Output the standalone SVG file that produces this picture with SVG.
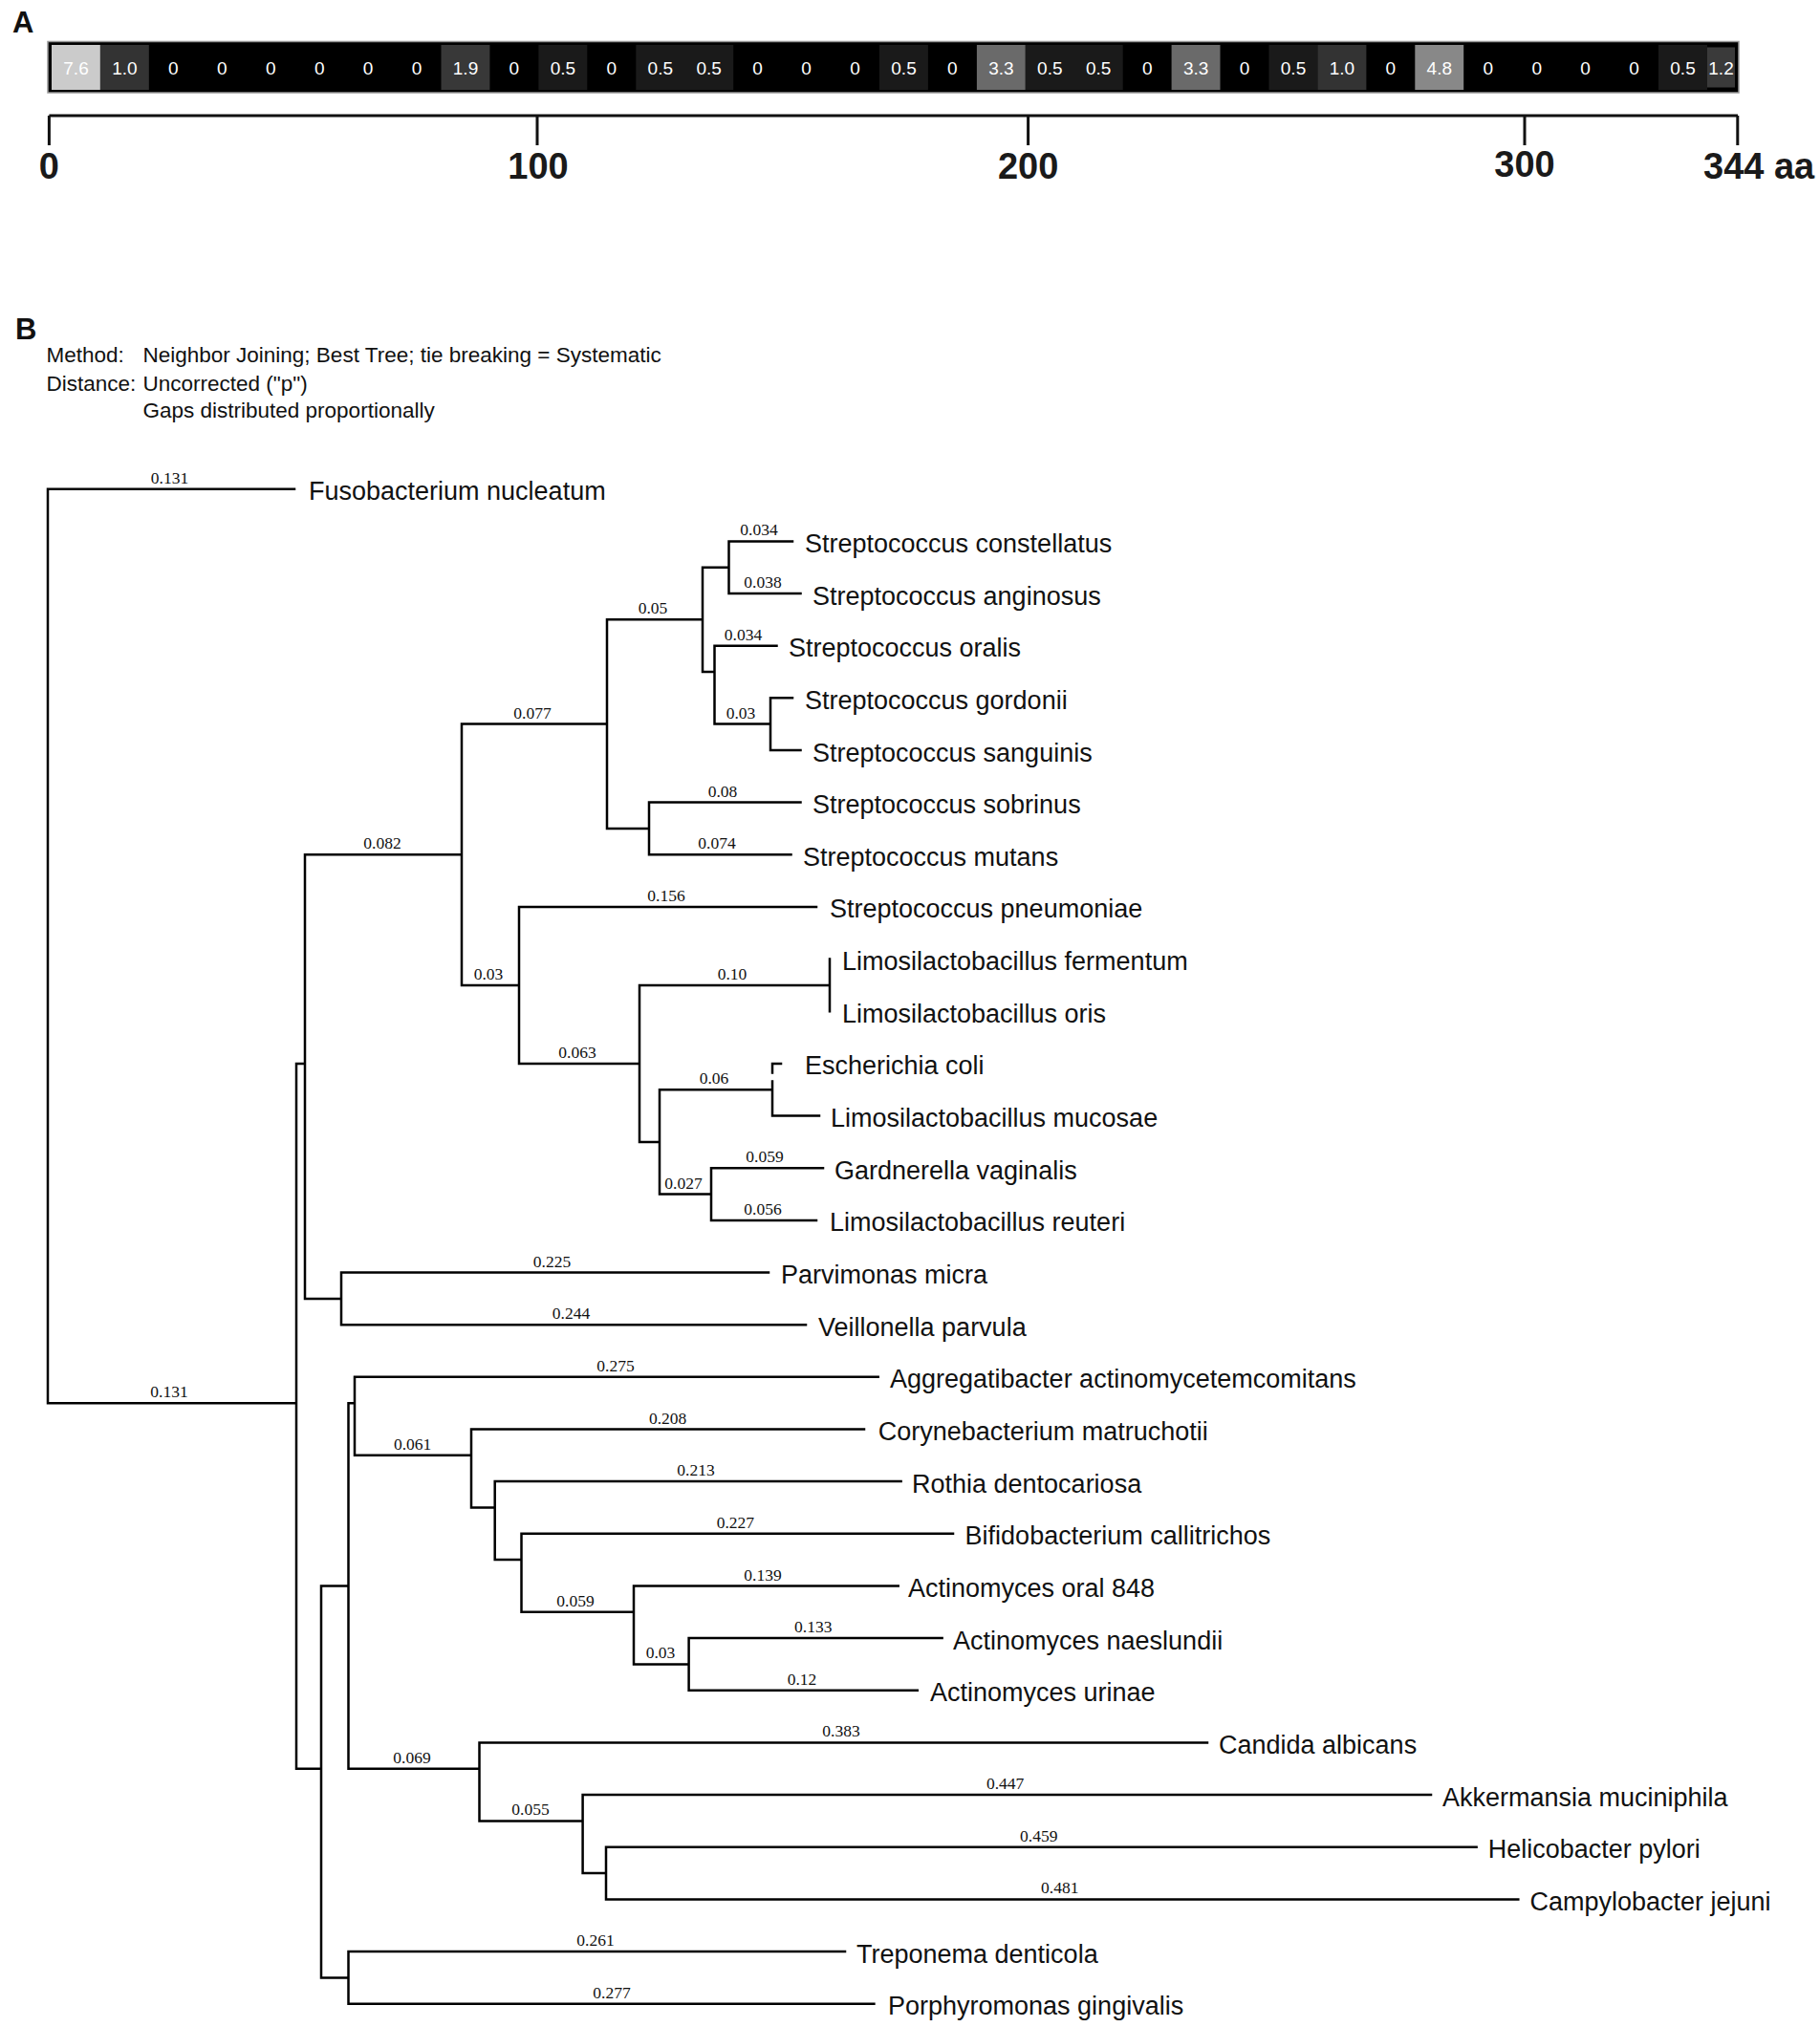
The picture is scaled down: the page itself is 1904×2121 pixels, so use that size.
<svg xmlns="http://www.w3.org/2000/svg" width="1904" height="2121" viewBox="0 0 1904 2121">
<style>
.br{stroke:#000;stroke-width:2.5;fill:none;stroke-linecap:square}
.lf{font-family:"Liberation Sans",Arial,sans-serif;font-size:27px;fill:#111}
.bl{font-family:"Liberation Serif","Times New Roman",serif;font-size:17.5px;fill:#111;text-anchor:middle}
.cv{font-family:"Liberation Sans",Arial,sans-serif;font-size:19px;fill:#fff;text-anchor:middle}
.ax{font-family:"Liberation Sans",Arial,sans-serif;font-weight:bold;font-size:38px;fill:#1a1a1a;text-anchor:middle}
.hd{font-family:"Liberation Sans",Arial,sans-serif;font-size:22.5px;fill:#111}
.pl{font-family:"Liberation Sans",Arial,sans-serif;font-weight:bold;font-size:31px;fill:#111}
.tk{stroke:#111;stroke-width:3;fill:none}
</style>
<rect width="1904" height="2121" fill="#fff"/>

<g id="panel-A">
<text class="pl" x="13" y="34">A</text>
<rect x="50" y="43.5" width="1769" height="53.5" fill="#000" stroke="#999" stroke-width="1.5"/>
<g id="cells">
<rect x="54" y="47" width="50.9" height="47" fill="#cbcbcb"/>
<rect x="104.9" y="47" width="50.9" height="47" fill="#333"/>
<rect x="461.5" y="47" width="50.9" height="47" fill="#383838"/>
<rect x="563.4" y="47" width="50.9" height="47" fill="#1a1a1a"/>
<rect x="665.3" y="47" width="101.9" height="47" fill="#1a1a1a"/>
<rect x="920" y="47" width="50.9" height="47" fill="#1a1a1a"/>
<rect x="1021.9" y="47" width="50.9" height="47" fill="#6a6a6a"/>
<rect x="1072.8" y="47" width="101.9" height="47" fill="#1a1a1a"/>
<rect x="1225.6" y="47" width="50.9" height="47" fill="#6a6a6a"/>
<rect x="1327.5" y="47" width="50.9" height="47" fill="#1a1a1a"/>
<rect x="1378.4" y="47" width="51" height="47" fill="#333"/>
<rect x="1480.3" y="47" width="50.9" height="47" fill="#888"/>
<rect x="1735" y="47" width="51" height="47" fill="#1a1a1a"/>
<rect x="1786" y="49.5" width="29" height="42" fill="#3a3a3a"/>
</g>
<g id="cell-values">
<text class="cv" x="79.5" y="78">7.6</text>
<text class="cv" x="130.4" y="78">1.0</text>
<text class="cv" x="181.4" y="78">0</text>
<text class="cv" x="232.3" y="78">0</text>
<text class="cv" x="283.2" y="78">0</text>
<text class="cv" x="334.2" y="78">0</text>
<text class="cv" x="385.1" y="78">0</text>
<text class="cv" x="436.1" y="78">0</text>
<text class="cv" x="487" y="78">1.9</text>
<text class="cv" x="537.9" y="78">0</text>
<text class="cv" x="588.9" y="78">0.5</text>
<text class="cv" x="639.8" y="78">0</text>
<text class="cv" x="690.8" y="78">0.5</text>
<text class="cv" x="741.7" y="78">0.5</text>
<text class="cv" x="792.6" y="78">0</text>
<text class="cv" x="843.6" y="78">0</text>
<text class="cv" x="894.5" y="78">0</text>
<text class="cv" x="945.5" y="78">0.5</text>
<text class="cv" x="996.4" y="78">0</text>
<text class="cv" x="1047.4" y="78">3.3</text>
<text class="cv" x="1098.3" y="78">0.5</text>
<text class="cv" x="1149.2" y="78">0.5</text>
<text class="cv" x="1200.2" y="78">0</text>
<text class="cv" x="1251.1" y="78">3.3</text>
<text class="cv" x="1302" y="78">0</text>
<text class="cv" x="1353" y="78">0.5</text>
<text class="cv" x="1403.9" y="78">1.0</text>
<text class="cv" x="1454.9" y="78">0</text>
<text class="cv" x="1505.8" y="78">4.8</text>
<text class="cv" x="1556.8" y="78">0</text>
<text class="cv" x="1607.7" y="78">0</text>
<text class="cv" x="1658.6" y="78">0</text>
<text class="cv" x="1709.6" y="78">0</text>
<text class="cv" x="1760.5" y="78">0.5</text>
<text class="cv" x="1800.5" y="78">1.2</text>
</g>
<g id="axis">
<path class="tk" d="M51.4 121 H1818 M51.4 121 V152 M562 121 V152 M1075.6 121 V152 M1595 121 V152 M1817.8 121 V152"/>
<text class="ax" x="51.4" y="187">0</text>
<text class="ax" x="563" y="187">100</text>
<text class="ax" x="1075.6" y="187">200</text>
<text class="ax" x="1595" y="185">300</text>
<text class="ax" x="1782" y="186.5" style="text-anchor:start">344 aa</text>
</g>
</g>

<g id="panel-B-header">
<text class="pl" x="16" y="355">B</text>
<text class="hd" x="48.5" y="378.5">Method:</text>
<text class="hd" x="149.5" y="378.5">Neighbor Joining; Best Tree; tie breaking = Systematic</text>
<text class="hd" x="48.5" y="408.5">Distance:</text>
<text class="hd" x="149.5" y="408.5">Uncorrected ("p")</text>
<text class="hd" x="149.5" y="437">Gaps distributed proportionally</text>
</g>

<g id="connectors">
<path class="br" d="
M50 511.7 V1468.2
M50 511.7 H308
M50 1468.2 H310
M310 1112.9 V1850.7
M310 1112.9 H319
M310 1850.7 H336
M319 894.3 V1358.9
M319 894.3 H483
M319 1358.9 H357
M483 757.6 V1030.9
M483 757.6 H635
M483 1030.9 H543
M635 648.3 V867
M635 648.3 H735
M635 867 H679
M735 593.7 V703
M735 593.7 H762.5
M735 703 H747.5
M762.5 566.4 V621
M762.5 566.4 H829
M762.5 621 H837.5
M747.5 675.7 V757.6
M747.5 675.7 H812.5
M747.5 757.6 H806
M806 730.3 V785
M806 730.3 H829
M806 785 H837.5
M679 839.6 V894.3
M679 839.6 H837.5
M679 894.3 H827.5
M543 948.9 V1112.9
M543 948.9 H854
M543 1112.9 H669
M669 1030.9 V1194.9
M669 1030.9 H868
M669 1194.9 H690
M868 1003.6 V1058.3
M690 1140.2 V1249.5
M690 1140.2 H808
M690 1249.5 H744
M808 1112.9 V1122.5
M808 1131.5 V1167.6
M808 1112.9 H817
M808 1167.6 H857
M744 1222.2 V1276.9
M744 1222.2 H861
M744 1276.9 H854
M357 1331.5 V1386.2
M357 1331.5 H804
M357 1386.2 H843
M336 1659.5 V2069.4
M336 1659.5 H364.5
M336 2069.4 H364.5
M364.5 1468.2 V1850.7
M364.5 1468.2 H371
M364.5 1850.7 H501.5
M371 1440.8 V1522.8
M371 1440.8 H918.7
M371 1522.8 H493
M493 1495.5 V1577.5
M493 1495.5 H904
M493 1577.5 H517.7
M517.7 1550.1 V1632.1
M517.7 1550.1 H942.6
M517.7 1632.1 H545.5
M545.5 1604.8 V1686.8
M545.5 1604.8 H997
M545.5 1686.8 H663
M663 1659.5 V1741.4
M663 1659.5 H939.7
M663 1741.4 H720.6
M720.6 1714.1 V1768.8
M720.6 1714.1 H985.6
M720.6 1768.8 H959.8
M501.5 1823.4 V1905.4
M501.5 1823.4 H1263
M501.5 1905.4 H609.6
M609.6 1878.1 V1960.1
M609.6 1878.1 H1497
M609.6 1960.1 H634
M634 1932.7 V1987.4
M634 1932.7 H1544.6
M634 1987.4 H1588.3
M364.5 2042 V2096.7
M364.5 2042 H884
M364.5 2096.7 H914.4
"/>
<g id="branch-lengths">
<text class="bl" x="177.5" y="505.7">0.131</text>
<text class="bl" x="177" y="1462.2">0.131</text>
<text class="bl" x="400" y="888.3">0.082</text>
<text class="bl" x="557" y="751.6">0.077</text>
<text class="bl" x="511" y="1024.9">0.03</text>
<text class="bl" x="683" y="642.3">0.05</text>
<text class="bl" x="794" y="560.4">0.034</text>
<text class="bl" x="798" y="615">0.038</text>
<text class="bl" x="777.5" y="669.7">0.034</text>
<text class="bl" x="775" y="751.6">0.03</text>
<text class="bl" x="756" y="833.6">0.08</text>
<text class="bl" x="750" y="888.3">0.074</text>
<text class="bl" x="697" y="942.9">0.156</text>
<text class="bl" x="604" y="1106.9">0.063</text>
<text class="bl" x="766" y="1024.9">0.10</text>
<text class="bl" x="747" y="1134.2">0.06</text>
<text class="bl" x="715" y="1243.5">0.027</text>
<text class="bl" x="800" y="1216.2">0.059</text>
<text class="bl" x="798" y="1270.9">0.056</text>
<text class="bl" x="577.5" y="1325.5">0.225</text>
<text class="bl" x="597.5" y="1380.2">0.244</text>
<text class="bl" x="644" y="1434.8">0.275</text>
<text class="bl" x="431.6" y="1516.8">0.061</text>
<text class="bl" x="698.6" y="1489.5">0.208</text>
<text class="bl" x="728" y="1544.1">0.213</text>
<text class="bl" x="769.4" y="1598.8">0.227</text>
<text class="bl" x="602" y="1680.8">0.059</text>
<text class="bl" x="798" y="1653.5">0.139</text>
<text class="bl" x="691" y="1735.4">0.03</text>
<text class="bl" x="850.7" y="1708.1">0.133</text>
<text class="bl" x="839" y="1762.8">0.12</text>
<text class="bl" x="431" y="1844.7">0.069</text>
<text class="bl" x="880" y="1817.4">0.383</text>
<text class="bl" x="555" y="1899.4">0.055</text>
<text class="bl" x="1051.6" y="1872.1">0.447</text>
<text class="bl" x="1086.8" y="1926.7">0.459</text>
<text class="bl" x="1108.7" y="1981.4">0.481</text>
<text class="bl" x="623" y="2036">0.261</text>
<text class="bl" x="640" y="2090.7">0.277</text>
</g>
</g>

<g id="taxa">
<g id="t-fusobacterium"><text class="lf" x="323" y="523.2">Fusobacterium nucleatum</text></g>
<g id="t-s-constellatus"><text class="lf" x="842" y="577.9">Streptococcus constellatus</text></g>
<g id="t-s-anginosus"><text class="lf" x="850" y="632.5">Streptococcus anginosus</text></g>
<g id="t-s-oralis"><text class="lf" x="825" y="687.2">Streptococcus oralis</text></g>
<g id="t-s-gordonii"><text class="lf" x="842" y="741.8">Streptococcus gordonii</text></g>
<g id="t-s-sanguinis"><text class="lf" x="850" y="796.5">Streptococcus sanguinis</text></g>
<g id="t-s-sobrinus"><text class="lf" x="850" y="851.1">Streptococcus sobrinus</text></g>
<g id="t-s-mutans"><text class="lf" x="840" y="905.8">Streptococcus mutans</text></g>
<g id="t-s-pneumoniae"><text class="lf" x="868" y="960.4">Streptococcus pneumoniae</text></g>
<g id="t-l-fermentum"><text class="lf" x="881" y="1015.1">Limosilactobacillus fermentum</text></g>
<g id="t-l-oris"><text class="lf" x="881" y="1069.8">Limosilactobacillus oris</text></g>
<g id="t-e-coli"><text class="lf" x="842" y="1124.4">Escherichia coli</text></g>
<g id="t-l-mucosae"><text class="lf" x="869" y="1179.1">Limosilactobacillus mucosae</text></g>
<g id="t-gardnerella"><text class="lf" x="873" y="1233.7">Gardnerella vaginalis</text></g>
<g id="t-l-reuteri"><text class="lf" x="868" y="1288.4">Limosilactobacillus reuteri</text></g>
<g id="t-parvimonas"><text class="lf" x="817" y="1343">Parvimonas micra</text></g>
<g id="t-veillonella"><text class="lf" x="856" y="1397.7">Veillonella parvula</text></g>
<g id="t-aggregatibacter"><text class="lf" x="931" y="1452.3">Aggregatibacter actinomycetemcomitans</text></g>
<g id="t-corynebacterium"><text class="lf" x="918.7" y="1507">Corynebacterium matruchotii</text></g>
<g id="t-rothia"><text class="lf" x="954" y="1561.6">Rothia dentocariosa</text></g>
<g id="t-bifidobacterium"><text class="lf" x="1009.6" y="1616.3">Bifidobacterium callitrichos</text></g>
<g id="t-a-oral848"><text class="lf" x="950" y="1671">Actinomyces oral 848</text></g>
<g id="t-a-naeslundii"><text class="lf" x="997" y="1725.6">Actinomyces naeslundii</text></g>
<g id="t-a-urinae"><text class="lf" x="973" y="1780.3">Actinomyces urinae</text></g>
<g id="t-candida"><text class="lf" x="1275" y="1834.9">Candida albicans</text></g>
<g id="t-akkermansia"><text class="lf" x="1509" y="1889.6">Akkermansia muciniphila</text></g>
<g id="t-helicobacter"><text class="lf" x="1556.7" y="1944.2">Helicobacter pylori</text></g>
<g id="t-campylobacter"><text class="lf" x="1600.5" y="1998.9">Campylobacter jejuni</text></g>
<g id="t-treponema"><text class="lf" x="896" y="2053.5">Treponema denticola</text></g>
<g id="t-porphyromonas"><text class="lf" x="929" y="2108.2">Porphyromonas gingivalis</text></g>
</g>
</svg>
